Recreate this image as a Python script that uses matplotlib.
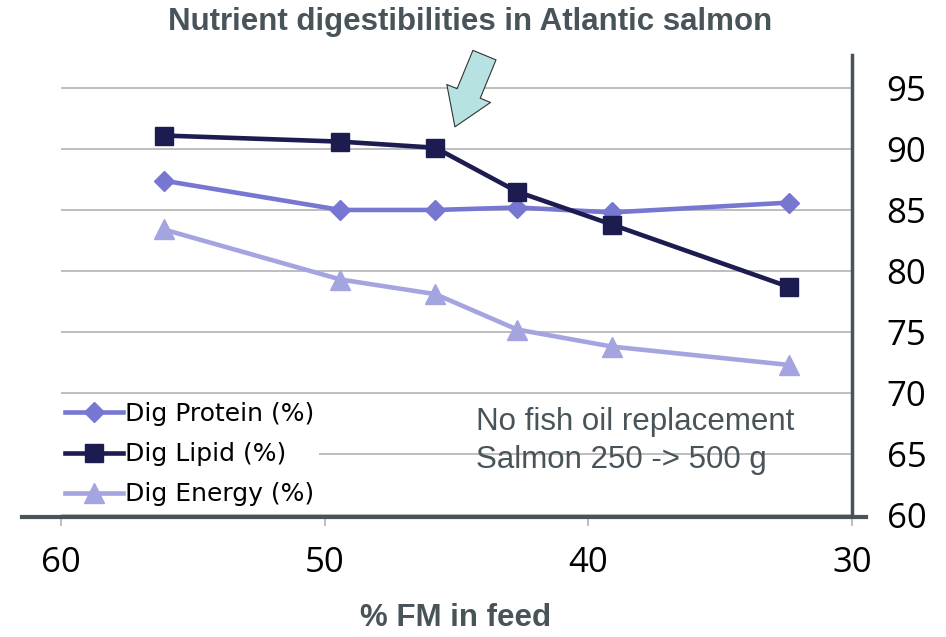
import matplotlib.pyplot as plt
from matplotlib.lines import Line2D

# data
fm_in_feed = [56.1, 49.4, 45.8, 42.7, 39.1, 32.4]
dig_protein = [87.4, 85.0, 85.0, 85.2, 84.8, 85.6]
dig_lipid = [91.1, 90.6, 90.1, 86.5, 83.8, 78.7]
dig_energy = [83.4, 79.3, 78.1, 75.2, 73.8, 72.3]
x_ticks = [60, 50, 40, 30]
y_ticks = [60, 65, 70, 75, 80, 85, 90, 95]

dark_gray = "#48545a"

fig = plt.figure(figsize=(9.46, 6.37), dpi=100)
ax = fig.add_axes([61 / 946, 1 - 515 / 637, (852 - 61) / 946, (515 - 55) / 637])

ax.plot(fm_in_feed, dig_protein, color="#7777d2", lw=3.3, marker="D", ms=10,
        label="Dig Protein (%)", zorder=3)
ax.plot(fm_in_feed, dig_lipid, color="#1c1c50", lw=3.3, marker="s", ms=13,
        label="Dig Lipid (%)", zorder=4)
ax.plot(fm_in_feed, dig_energy, color="#a4a4e0", lw=3.3, marker="^", ms=15,
        label="Dig Energy (%)", zorder=3)

ax.set_xlim(60, 30)
ax.set_ylim(60, 97.7)
ax.set_yticks(y_ticks)
ax.set_xticks(x_ticks)
ax.grid(axis="y", color="#b3b3b3", lw=1.2)
ax.set_axisbelow(True)

for s in ["left", "top", "bottom"]:
    ax.spines[s].set_visible(False)
ax.spines["right"].set_color(dark_gray)
ax.spines["right"].set_linewidth(2.5)

ax.yaxis.tick_right()
ax.tick_params(axis="y", length=0, pad=25, labelsize=25)
ax.tick_params(axis="x", direction="out", length=8, width=1.2, color="#b3b3b3",
               pad=14, labelsize=25)
for lab in ax.get_xticklabels() + ax.get_yticklabels():
    lab.set_fontfamily("Open Sans")

# thick baseline that runs past both ends of the plot
fig.add_artist(Line2D([22 / 946, 866 / 946], [1 - 517 / 637] * 2, color=dark_gray,
                      lw=3, transform=fig.transFigure))

leg = ax.legend(loc="upper left", bbox_to_anchor=(60 / 946, 1 - 397 / 637),
                bbox_transform=fig.transFigure, frameon=True, fancybox=False,
                edgecolor="none", framealpha=1, fontsize=18, handlelength=2.3,
                handletextpad=0.1, labelspacing=0.65, borderpad=0.2,
                borderaxespad=0)
leg.set_zorder(5)

ax.text(476 / 946, 1 - 441 / 637, "No fish oil replacement\nSalmon 250 -> 500 g",
        transform=fig.transFigure, fontsize=22.5, color=dark_gray,
        family="Liberation Sans", va="center", ha="left", linespacing=1.32)

fig.text(470 / 946, 1 - 22 / 637, "Nutrient digestibilities in Atlantic salmon",
         ha="center", va="center", fontsize=22.5, fontweight="bold", color=dark_gray,
         family="Liberation Sans")
fig.text(456 / 946, 1 - 618 / 637, "% FM in feed", ha="center", va="center",
         fontsize=22.5, fontweight="bold", color=dark_gray, family="Liberation Sans")

# fat arrow pointing to the lipid break point
ax.annotate("", xy=(45.1, 91.6), xytext=(43.9, 97.9), annotation_clip=False,
            arrowprops=dict(arrowstyle="simple,head_width=1.7,head_length=1.3,tail_width=0.9",
                            fc="#b6e2e2", ec="#333333", lw=0.8, mutation_scale=20))

fig.savefig("out.png", dpi=100)
